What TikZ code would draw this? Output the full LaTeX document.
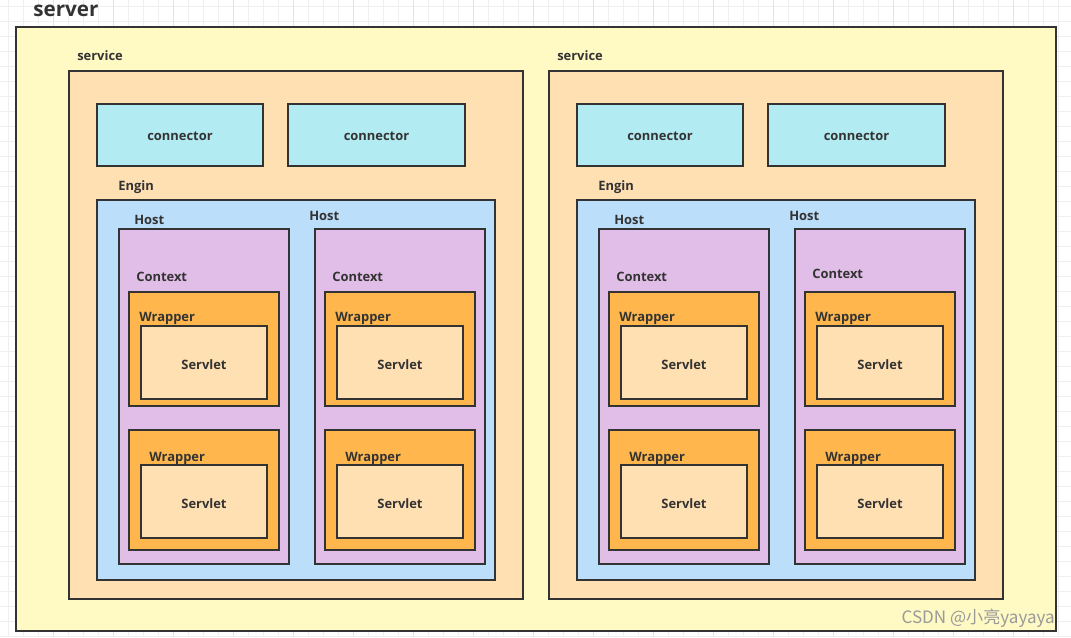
\documentclass[tikz,border=0pt]{standalone}
\usepackage{fontspec}
\setmainfont{Open Sans}
\newfontfamily\cjkfont{Noto Sans CJK SC}
\usetikzlibrary{fit}
\definecolor{cserver}{HTML}{FFF9C4}
\definecolor{cservice}{HTML}{FFE0B2}
\definecolor{cconn}{HTML}{B2EBF2}
\definecolor{cengine}{HTML}{BBDEFB}
\definecolor{chost}{HTML}{E1BEE7}
\definecolor{cwrap}{HTML}{FFB74D}
\definecolor{cservlet}{HTML}{FFE0B2}
\definecolor{cline}{HTML}{333333}
\definecolor{ctext}{HTML}{333333}
\definecolor{cgrid}{HTML}{EFEFEF}
\definecolor{cgridd}{HTML}{E2E2E2}
\definecolor{cwm}{HTML}{9A9A9A}
\begin{document}
\begin{tikzpicture}[x=0.75pt,y=-0.75pt,
  box/.style={draw=cline, line width=1.5pt, inner sep=0pt},
  lbl/.style={anchor=base west, inner sep=0pt, font=\fontsize{9.7}{12}\selectfont\bfseries, text=ctext},
  ctr/.style={font=\fontsize{9.7}{12}\selectfont\bfseries, text=ctext, inner sep=0pt, yshift=-1.3pt},
  gridline/.style={draw=cgrid, line width=0.75pt},
  gridlined/.style={draw=cgridd, line width=0.75pt}]
\useasboundingbox (0,0) rectangle (1071,637);
% background grid
\foreach \i in {0,...,71} \draw[gridline] ({8.3+15*\i},0) -- ({8.3+15*\i},637);
\foreach \j in {0,...,42} \draw[gridline] (0,{6.7+15*\j}) -- (1071,{6.7+15*\j});
\foreach \i in {0,...,17} \draw[gridlined] ({53.3+60*\i},0) -- ({53.3+60*\i},637);
% server
\node[box, fill=cserver, fit={(16,27)(1056,631)}] (server) {};
\node[anchor=base west, inner sep=0pt, font=\fontsize{15.5}{19}\selectfont\bfseries, text=ctext] (serverlbl) at (33,16.5) {server};
\foreach \s/\dx/\cyb in {L/0/281,R/480/278}{
  \node[box, fill=cservice, fit={({\dx+69},71)({\dx+523},599)}] (svc\s) {};
  \node[lbl] (svclbl\s) at ({\dx+77},60) {service};
  \node[box, fill=cconn, fit={({\dx+97},104)({\dx+263},166)}, label={[ctr]center:connector}] (conA\s) {};
  \node[box, fill=cconn, fit={({\dx+288},104)({\dx+465},166)}, label={[ctr]center:connector}] (conB\s) {};
  \node[lbl] (englbl\s) at ({\dx+118},190) {Engin};
  \node[box, fill=cengine, fit={({\dx+97},200)({\dx+495},580)}] (eng\s) {};
  \foreach \h/\hx/\hlx/\hly/\cly in {1/0/15/224/281, 2/196/-6/220/\cyb}{
    \node[box, fill=chost, fit={({\dx+\hx+119},229)({\dx+\hx+289},564)}] (host\s\h) {};
    \node[lbl] (hostlbl\s\h) at ({\dx+\hx+119+\hlx},\hly) {Host};
    \node[lbl] (ctxlbl\s\h) at ({\dx+\hx+136},\cly) {Context};
    \node[box, fill=cwrap, fit={({\dx+\hx+129},292)({\dx+\hx+279},406)}] (wrapA\s\h) {};
    \node[lbl] (wrapAlbl\s\h) at ({\dx+\hx+139},321) {Wrapper};
    \node[box, fill=cservlet, fit={({\dx+\hx+141},326)({\dx+\hx+267},399)}, label={[ctr]center:Servlet}] (sltA\s\h) {};
    \node[box, fill=cwrap, fit={({\dx+\hx+129},430)({\dx+\hx+279},550)}] (wrapB\s\h) {};
    \node[lbl] (wrapBlbl\s\h) at ({\dx+\hx+149},461) {Wrapper};
    \node[box, fill=cservlet, fit={({\dx+\hx+141},465)({\dx+\hx+267},538)}, label={[ctr]center:Servlet}] (sltB\s\h) {};
  }
}
\node[anchor=base east, inner sep=0pt, text=cwm, font=\cjkfont\fontsize{12.8}{15}\selectfont] (wm) at (1055,623) {CSDN @小亮yayaya};
\end{tikzpicture}
\end{document}
